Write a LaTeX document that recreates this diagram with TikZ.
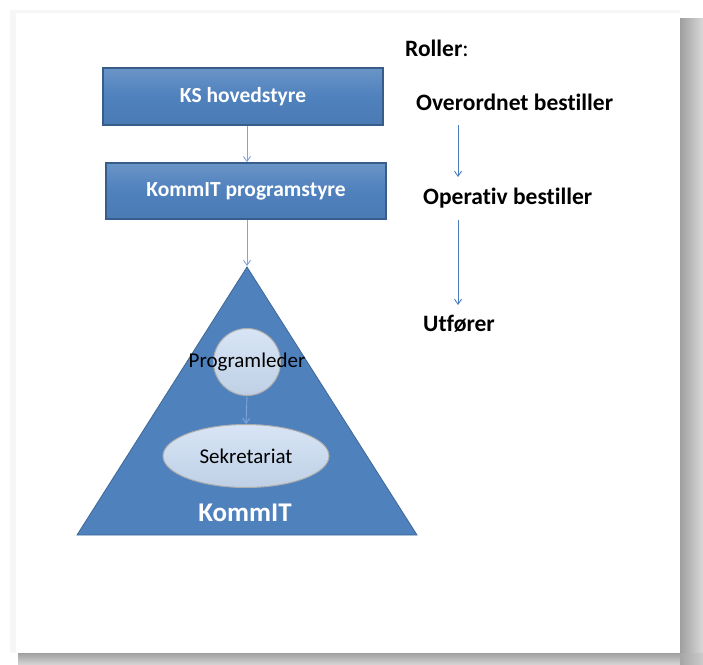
\documentclass[tikz,border=0pt]{standalone}
\usepackage{fontspec}
\setmainfont{Carlito}[Ligatures=NoCommon]
\usetikzlibrary{arrows.meta,shapes.geometric}
\definecolor{offblue}{HTML}{4F81BD}
\definecolor{offbluedark}{HTML}{385D8A}
\definecolor{lightbub}{HTML}{C6D9F1}
\definecolor{arrowblue}{HTML}{4A7EBB}
\definecolor{arrowlight}{HTML}{7FA6DA}
\tikzset{
  boxnode/.style={draw=offbluedark, line width=1.6pt, top color=offblue!85!white, bottom color=offblue!95!black, middle color=offblue,
    text=white, font=\bfseries\fontsize{21.5}{25}\selectfont, inner sep=0pt},
  bubble/.style={draw=gray!65, line width=1pt, top color=lightbub!70!white, bottom color=lightbub!90!gray, inner sep=0pt,
    font=\fontsize{21}{24}\selectfont},
  rolle/.style={font=\bfseries\fontsize{23.5}{27}\selectfont, text=black, inner sep=0pt},
  lconn/.style={draw=arrowlight, line width=0.9pt, -{Straight Barb[length=5pt,width=7pt]}},
  rconn/.style={draw=arrowblue, line width=0.9pt, -{Straight Barb[length=5pt,width=7pt]}},
}
\begin{document}
\begin{tikzpicture}[x=1pt,y=-1pt]
\useasboundingbox (0,0) rectangle (703,664);
\fill[white] (0,0) rectangle (703,664);
% page edge and shadow
\fill[gray!7] (10,10) rectangle (680,653);
\fill[white] (16,13) rectangle (680,653);
\shade[left color=gray!75, right color=gray!30] (680,18) rectangle (703,664);
\shade[top color=gray!75, bottom color=gray!35] (18,653) rectangle (680,664);
\shade[left color=gray!70, right color=gray!40] (680,653) rectangle (703,664);
% left hierarchy
\node[boxnode, minimum width=280pt, minimum height=57pt] (ks) at (243,96.5) {KS hovedstyre};
\node[boxnode, minimum width=280pt, minimum height=56pt] (ps) at (246,191) {KommIT programstyre};
\fill[offblue, draw=offblue!80!black, line width=0.8pt] (77,535) -- (247,267) -- (417,535) -- cycle;
\coordinate (apex) at (247,266);
\node[bubble, circle, minimum size=67pt] (pl) at (247,362) {\makebox[0pt]{Programleder}};
\node[bubble, ellipse, minimum width=166pt, minimum height=63pt] (sek) at (246,456) {Sekretariat};
\node[text=white, font=\bfseries\fontsize{27}{30}\selectfont, inner sep=0pt] (kit) at (245,513) {KommIT};
\draw[lconn] (ks.south -| apex) -- (ps.north -| apex);
\draw[lconn] (ps.south -| apex) -- (apex);
\draw[lconn] (pl.south) -- (sek.north);
% roles
\node[rolle, anchor=west] (roller) at (405,48) {Roller\textmd{:}};
\node[rolle, anchor=west] (ob) at (416,102) {Overordnet bestiller};
\node[rolle, anchor=west] (opb) at (423,198) {Operativ bestiller};
\node[rolle, anchor=west] (utf) at (423,324) {Utfører};
\coordinate (r1s) at (458,125);
\coordinate (r1e) at (458,177);
\coordinate (r2s) at (458,220);
\coordinate (r2e) at (458,305);
\draw[rconn] (r1s) -- (r1e);
\draw[rconn] (r2s) -- (r2e);
\end{tikzpicture}
\end{document}
